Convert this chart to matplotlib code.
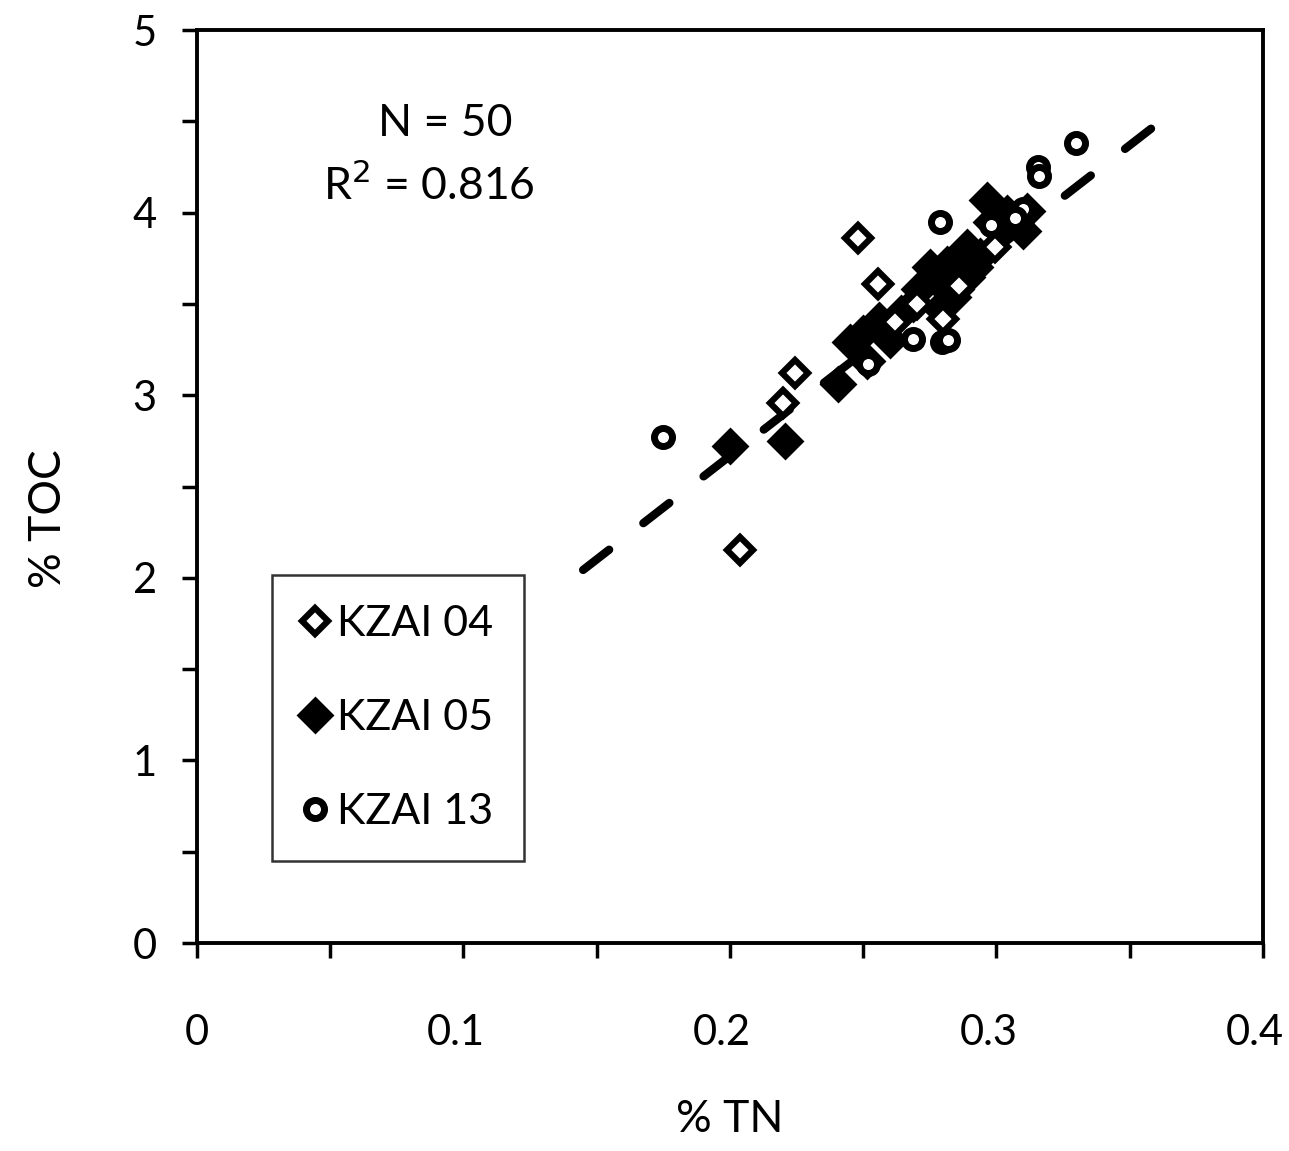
import numpy as np
import matplotlib
matplotlib.use("Agg")
import matplotlib.pyplot as plt
import matplotlib.transforms as mtransforms
from matplotlib.ticker import MultipleLocator

plt.rcParams['font.family'] = ['Lato', 'DejaVu Sans']

# KZAI 04 (open diamonds)
tn_04 = [0.248, 0.2555, 0.2244, 0.220, 0.2037, 0.2994, 0.270, 0.280, 0.262, 0.286]
toc_04 = [3.86, 3.61, 3.12, 2.96, 2.15, 3.81, 3.50, 3.42, 3.40, 3.60]

# KZAI 05 (filled diamonds)
tn_05 = [0.200, 0.2206, 0.2405, 0.245, 0.250, 0.2514, 0.256, 0.264, 0.2687,
         0.271, 0.2777, 0.279, 0.2814, 0.2837, 0.285, 0.289, 0.289, 0.294,
         0.2964, 0.3013, 0.304, 0.310, 0.3114, 0.275, 0.260, 0.283, 0.292,
         0.298]
toc_05 = [2.72, 2.75, 3.06, 3.29, 3.34, 3.19, 3.41, 3.45, 3.50,
          3.58, 3.63, 3.48, 3.72, 3.54, 3.58, 3.65, 3.81, 3.76,
          4.07, 3.90, 4.00, 3.90, 4.01, 3.70, 3.30, 3.62, 3.70,
          3.95]

# KZAI 13 (open circles)
tn_13 = [0.1749, 0.279, 0.330, 0.3156, 0.316, 0.2687, 0.2796, 0.2518,
         0.310, 0.282, 0.307, 0.298]
toc_13 = [2.77, 3.95, 4.38, 4.25, 4.20, 3.31, 3.29, 3.17,
          4.02, 3.30, 3.97, 3.93]

# linear trend
fit_slope = 11.34
fit_intercept = 0.40
fit_x = [0.358, 0.1445]

fig = plt.figure(figsize=(12.89, 11.51), dpi=100)
ax = fig.add_axes([0.1528, 0.1807, 0.827, 0.7932])

fx = np.array(fit_x)
ax.plot(fx, fit_slope * fx + fit_intercept, color='black', lw=6,
        dashes=(3.95, 5.2), dash_capstyle='round', zorder=2)

ax.plot(tn_05, toc_05, 'D', ms=17, mfc='black', mec='black', mew=2,
        ls='none', label='KZAI 05', zorder=3)
ax.plot(tn_04, toc_04, 'D', ms=13, mfc='white', mec='black', mew=4.5,
        ls='none', label='KZAI 04', zorder=4)
ax.plot(tn_13, toc_13, 'o', ms=13, mfc='white', mec='black', mew=5,
        ls='none', label='KZAI 13', zorder=5)

ax.set_xlim(0, 0.4)
ax.set_ylim(0, 5)
ax.xaxis.set_minor_locator(MultipleLocator(0.05))
ax.set_xticks([0, 0.1, 0.2, 0.3, 0.4])
ax.set_xticklabels(['0', '0.1', '0.2', '0.3', '0.4'])
ax.yaxis.set_major_locator(MultipleLocator(1))
ax.yaxis.set_minor_locator(MultipleLocator(0.5))

ax.tick_params(axis='both', which='both', direction='out', width=2.5,
               length=11, labelsize=30, colors='black')
ax.tick_params(axis='x', which='major', pad=40)
ax.tick_params(axis='y', which='major', pad=18)
for s in ax.spines.values():
    s.set_linewidth(2.8)

# x tick labels sit a little left of their ticks in the original
shift = mtransforms.ScaledTranslation(-8 / 100, 0, fig.dpi_scale_trans)
for lab in ax.get_xticklabels()[1:]:
    lab.set_transform(lab.get_transform() + shift)

ax.set_xlabel('% TN', fontsize=32, labelpad=34)
ax.set_ylabel('% TOC', fontsize=32)
ax.yaxis.set_label_coords(-0.12, 0.465)

ax.text(0.233, 0.898, 'N = 50', transform=ax.transAxes, ha='center',
        va='center', fontsize=32)
ax.text(0.218, 0.830, 'R$^2$ = 0.816', transform=ax.transAxes, ha='center',
        va='center', fontsize=32)

handles, labels = ax.get_legend_handles_labels()
order = [1, 0, 2]
leg = ax.legend([handles[i] for i in order], [labels[i] for i in order],
                loc='upper left', bbox_to_anchor=(0.0703, 0.403),
                fontsize=31, frameon=True, fancybox=False, edgecolor='black',
                handlelength=0.6, handletextpad=0.22, labelspacing=1.3,
                borderpad=0.7, borderaxespad=0)
leg.get_frame().set_linewidth(1.8)

fig.savefig('out.png', dpi=100)
